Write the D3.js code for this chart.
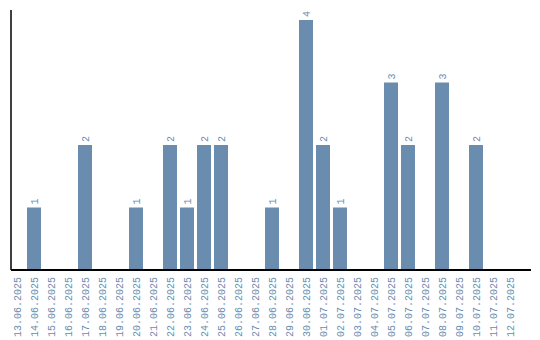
<!DOCTYPE html>
<html><head><meta charset="utf-8">
<script src="https://cdn.jsdelivr.net/npm/d3@7"></script>
<style>body{margin:0;background:#fff}svg{display:block}</style>
</head><body>
<script>
const categories = ["13.06.2025","14.06.2025","15.06.2025","16.06.2025","17.06.2025","18.06.2025","19.06.2025","20.06.2025","21.06.2025","22.06.2025","23.06.2025","24.06.2025","25.06.2025","26.06.2025","27.06.2025","28.06.2025","29.06.2025","30.06.2025","01.07.2025","02.07.2025","03.07.2025","04.07.2025","05.07.2025","06.07.2025","07.07.2025","08.07.2025","09.07.2025","10.07.2025","11.07.2025","12.07.2025"];
const values = [0,1,0,0,2,0,0,1,0,2,1,2,2,0,0,1,0,4,2,1,0,0,3,2,0,3,0,2,0,0];

const W = 540, H = 340;
const color = "#6a8caf";
const font = "Liberation Mono, DejaVu Sans Mono, monospace";
const svg = d3.select("body").append("svg").attr("width", W).attr("height", H);

const p = 3/17;
const x = d3.scaleBand().domain(categories).range([8.5, 518.5]).paddingInner(p).paddingOuter(p/2);
const y = d3.scaleLinear().domain([0, 4]).range([270, 20]);

svg.append("g").selectAll("rect").data(categories).join("rect")
  .attr("x", d => x(d)).attr("width", x.bandwidth())
  .attr("y", (d,i) => y(values[i])).attr("height", (d,i) => y(0) - y(values[i]))
  .attr("fill", color);

svg.append("g").selectAll("text").data(categories.filter((d,i)=>values[i]>0)).join("text")
  .attr("transform", d => `translate(${x(d)+x.bandwidth()/2},${y(values[categories.indexOf(d)])-3}) rotate(-90)`)
  .attr("dy", "0.35em")
  .attr("font-family", font).attr("font-size", 10)
  .attr("fill", color)
  .text(d => values[categories.indexOf(d)]);

const xAxis = d3.axisBottom(x).tickSize(0).tickPadding(0);
const gx = svg.append("g").attr("transform", "translate(0,270)").call(xAxis);
gx.select(".domain").remove();
gx.selectAll("text")
  .attr("transform", "rotate(-90)")
  .attr("text-anchor", "end")
  .attr("x", -7).attr("y", 0).attr("dy", "0.35em")
  .attr("font-family", font).attr("font-size", 10)
  .attr("fill", color);

svg.append("line").attr("x1", 11).attr("x2", 531).attr("y1", 270).attr("y2", 270)
  .attr("stroke", "#000").attr("stroke-width", 2);
svg.append("line").attr("x1", 11).attr("x2", 11).attr("y1", 10).attr("y2", 270)
  .attr("stroke", "#000").attr("stroke-width", 1.5);
</script>
</body></html>
